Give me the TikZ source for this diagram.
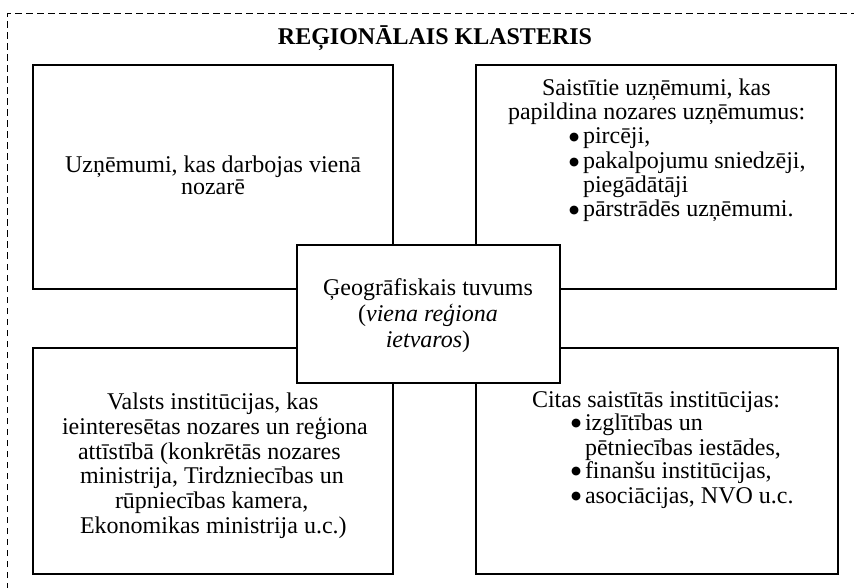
\documentclass[tikz,border=0pt]{standalone}
\usepackage{fontspec}
\setmainfont{Liberation Serif}
\newfontfamily\bulfont{DejaVu Sans}
\newcommand{\bigbul}{\raisebox{3.2pt}{\bulfont\fontsize{11.5}{12}\selectfont ●}}
\begin{document}
\begin{tikzpicture}[x=1pt,y=-1pt,
  frame/.style={draw=black,line width=1pt,dash pattern=on 6.5pt off 4.5pt},
  boxst/.style={draw=black,line width=1.7pt,fill=white,inner sep=0pt,outer sep=0pt,rectangle},
  txt/.style={inner sep=0pt,outer sep=0pt,font=\fontsize{24}{25}\selectfont},
  ttl/.style={inner sep=0pt,outer sep=0pt,font=\fontsize{24}{25}\selectfont\bfseries},
  bl/.style={txt,anchor=base west}
]
\useasboundingbox (0,0) rectangle (854,588);
\begin{scope}
\clip (0,0) rectangle (854,588);
\coordinate (fA) at (7,600);
\coordinate (fB) at (7,14);
\coordinate (fC) at (870,14);
\draw[frame] (fA) -- (fB) -- (fC);
\end{scope}

% title
\node[ttl,anchor=base] (title) at (435,45) {REĢIONĀLAIS KLASTERIS};

% four boxes
\node[boxst,minimum width=360pt,minimum height=224pt] (tl) at (213,177) {};
\node[boxst,minimum width=360pt,minimum height=224pt] (tr) at (656,177) {};
\node[boxst,minimum width=360pt,minimum height=226pt] (bl) at (213,461) {};
\node[boxst,minimum width=362pt,minimum height=226pt] (br) at (657,461) {};
% centre box
\node[boxst,minimum width=263pt,minimum height=138pt] (c) at (428.5,314) {};

% top-left text
\node[txt,anchor=base] (tl1) at (213,173) {Uzņēmumi, kas darbojas vienā};
\node[txt,anchor=base] (tl2) at (213,195) {nozarē};

% top-right text
\node[bl] (tr1) at (542,96) {Saistītie uzņēmumi, kas};
\node[bl] (tr2) at (508,120) {papildina nozares uzņēmumus:};
\node[bl] (tr3) at (569,144) {\makebox[14pt][l]{\bigbul}pircēji,};
\node[bl] (tr4) at (569,169) {\makebox[14pt][l]{\bigbul}pakalpojumu sniedzēji,};
\node[bl] (tr5) at (583,193) {piegādātāji};
\node[bl] (tr6) at (569,217) {\makebox[14pt][l]{\bigbul}pārstrādēs uzņēmumi.};

% centre text
\node[txt,anchor=base] (c1) at (428,295) {Ģeogrāfiskais tuvums};
\node[txt,anchor=base] (c2) at (428,321) {(\textit{viena reģiona}};
\node[txt,anchor=base] (c3) at (428,347) {\textit{ietvaros})};

% bottom-left text
\node[bl] (bl1) at (107,409) {Valsts institūcijas, kas};
\node[bl] (bl2) at (62,434) {ieinteresētas nozares un reģiona};
\node[bl] (bl3) at (78,459) {attīstībā (konkrētās nozares};
\node[bl] (bl4) at (80,483) {ministrija, Tirdzniecības un};
\node[bl] (bl5) at (115,508) {rūpniecības kamera,};
\node[bl] (bl6) at (80,533) {Ekonomikas ministrija u.c.)};

% bottom-right text
\node[bl] (br1) at (532,407) {Citas saistītās institūcijas:};
\node[bl] (br2) at (571,430) {\makebox[14pt][l]{\bigbul}izglītības un};
\node[bl] (br3) at (585,455) {pētniecības iestādes,};
\node[bl] (br4) at (571,478) {\makebox[14pt][l]{\bigbul}finanšu institūcijas,};
\node[bl] (br5) at (571,503) {\makebox[14pt][l]{\bigbul}asociācijas, NVO u.c.};
\end{tikzpicture}
\end{document}
